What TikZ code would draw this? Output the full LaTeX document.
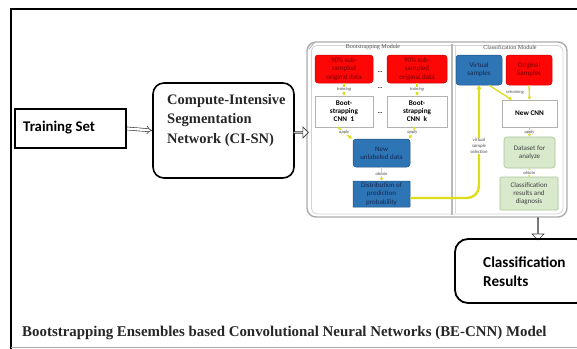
\documentclass[tikz,border=0pt]{standalone}
\usepackage{fontspec}
\setmainfont{Liberation Serif}
\newfontfamily\carl{Carlito}
\usetikzlibrary{arrows.meta,shapes.arrows,calc}
\definecolor{myred}{RGB}{252,6,6}
\definecolor{myredt}{RGB}{120,0,0}
\definecolor{myblue}{RGB}{46,117,182}
\definecolor{mybluet}{RGB}{20,40,80}
\definecolor{mygreen}{RGB}{216,233,204}
\definecolor{mygreenb}{RGB}{165,198,148}
\definecolor{myyel}{RGB}{222,222,24}
\tikzset{
  redbox/.style={draw=myred!80!black, line width=0.5pt, fill=myred, rounded corners=3pt, text=myredt, align=center, font=\carl\fontsize{7}{8.2}\selectfont, inner sep=0pt},
  bluebox/.style={draw=myblue!70!black, line width=0.5pt, fill=myblue, rounded corners=3pt, text=mybluet, align=center, font=\carl\fontsize{7}{8.2}\selectfont, inner sep=0pt},
  whitebox/.style={draw=gray!60, line width=0.6pt, fill=white, align=center, font=\carl\bfseries\fontsize{7.2}{8}\selectfont, inner sep=0pt},
  greenbox/.style={draw=mygreenb, line width=0.6pt, fill=mygreen, rounded corners=3pt, text=black!75, align=center, font=\carl\fontsize{7}{8.2}\selectfont, inner sep=0pt},
  yarrow/.style={draw=myyel, line width=1.3pt, -{Triangle[length=3pt,width=3.5pt]}},
  tinylab/.style={fill=white, inner sep=0.5pt, font=\carl\itshape\fontsize{4.5}{5}\selectfont, text=black!70},
  dots/.style={font=\bfseries\fontsize{6}{6}\selectfont, inner sep=0pt},
  hollow/.style={single arrow, draw=black!80, fill=white, line width=0.6pt, inner sep=0pt, single arrow head extend=2.5pt}
}
\begin{document}
\begin{tikzpicture}[x=1pt,y=-1pt]
\useasboundingbox (0,0) rectangle (577,348);
% outer frame
\draw[line width=2pt] (600,9) -- (11,9) -- (11,352);
\draw[gray!70, line width=0.8pt] (11,347) -- (600,347);

% training set
\node[draw, line width=2.2pt, minimum width=111pt, minimum height=39pt, inner sep=0pt] (train) at (70.5,128.5) {};
\node[font=\carl\bfseries\fontsize{14.8}{16}\selectfont, anchor=west, inner sep=0pt] (traint) at (23,127.5) {Training Set};

% CI-SN
\node[draw, line width=1.6pt, rounded corners=11pt, minimum width=141pt, minimum height=95pt, inner sep=0pt] (cisn) at (223.5,130.5) {};
\node[font=\bfseries\fontsize{14.5}{19.5}\selectfont, align=left, anchor=north west, inner sep=0pt, text=black!85] (cisnt) at (167,94) {Compute-Intensive\\Segmentation\\Network (CI-SN)};

\draw[double=white, double distance=2.4pt, line width=0.6pt, draw=black!80, -{Implies}] (train.east) -- (cisn.west);

% panel
\node[draw=gray!65, line width=1.4pt, rounded corners=9pt, minimum width=260pt, minimum height=175pt, inner sep=0pt, fill=white] (panel) at (437,129.5) {};
\draw[gray!35, line width=0.8pt, rounded corners=6pt] (311.5,45.5) rectangle (563,214);
\draw[gray!60, line width=0.9pt] (309,49) -- (315,42);
\draw[gray!55, line width=1.2pt] (452,44) -- (452,215);
\draw[gray!30, line width=0.6pt] (455,46) -- (455,213);

\node[hollow, minimum height=15pt, minimum width=11pt, single arrow head extend=2pt] (a2) at ($(cisn.east)!0.5!(panel.west)+(0,2.5)$) {};

\node[font=\fontsize{6}{6}\selectfont, text=black!70, inner sep=0pt] (tb) at (373,47.5) {Bootstrapping Module};
\node[font=\fontsize{6}{6}\selectfont, text=black!70, inner sep=0pt] (tc) at (510,47.5) {Classification Module};

% bootstrapping module
\node[redbox, minimum width=58pt, minimum height=28pt] (r1) at (344,69) {90\% sub-\\sampled\\original data};
\node[redbox, minimum width=60pt, minimum height=28pt] (r2) at (417,69) {90\% sub-\\sampled\\original data};
\node[whitebox, minimum width=58pt, minimum height=31pt] (b1) at (344,111.5) {Boot-\\strapping\\CNN\enspace 1};
\node[whitebox, minimum width=60pt, minimum height=31pt] (b2) at (417,111.5) {Boot-\\strapping\\CNN\enspace k};
\node[bluebox, minimum width=57pt, minimum height=28pt] (nd) at (381.5,153) {New\\unlabeled data};
\node[bluebox, rounded corners=0.5pt, minimum width=57pt, minimum height=26pt] (dist) at (381.5,194) {Distribution of\\prediction\\probability};

\node[dots] (d1) at (380,72) {...};
\node[dots] (d2) at (380,88) {...};
\node[dots] (d3) at (380,113) {...};

\draw[yarrow] (r1.south) -- (b1.north) node[midway, tinylab] (l1) {training};
\draw[yarrow] (r2.south) -- (b2.north) node[midway, tinylab] (l2) {training};
\draw[yarrow] ($(b1.south)+(-6,0)$) -- ($(nd.north west)+(-1,0)$) node[pos=0.45, tinylab] (l3) {apply};
\draw[yarrow] ($(b2.south)+(-2,0)$) -- ($(nd.north east)+(-1,0)$) node[pos=0.45, tinylab] (l4) {apply};
\draw[yarrow] (nd.south) -- (dist.north) node[midway, tinylab] (l5) {obtain};

% classification module
\node[bluebox, minimum width=46pt, minimum height=30pt] (vs) at (479,70) {Virtual\\samples};
\node[redbox, minimum width=46pt, minimum height=30pt] (os) at (529,70) {Original\\Samples};
\node[whitebox, minimum width=55pt, minimum height=27pt] (ncnn) at (529.5,113.5) {New CNN};
\node[greenbox, minimum width=51pt, minimum height=31pt] (dfa) at (529.5,152.5) {Dataset for\\analyze};
\node[greenbox, rounded corners=1pt, minimum width=58pt, minimum height=33pt] (crd) at (529,193.5) {Classification\\results and\\diagnosis};

\draw[draw=myyel, line width=2.4pt, rounded corners=12pt, -{Triangle[length=4pt,width=5pt]}] ($(dist.east)+(0,4)$) -| (vs.south);
\node[fill=white, inner sep=0.6pt, align=center, font=\carl\itshape\fontsize{4.8}{6.2}\selectfont, text=black!70] (l6) at (479,146) {virtual\\sample\\selection};

\draw[yarrow] ($(vs.south)+(10,0)$) -- ($(ncnn.north west)+(10,0)$);
\node[tinylab, fill=none] (l7) at (515,92.5) {retraining};
\draw[yarrow] (os.south) -- (ncnn.north);
\draw[yarrow] (ncnn.south) -- (dfa.north) node[midway, tinylab] (l8) {apply};
\draw[yarrow] (crd.north) -- (dfa.south) node[midway, tinylab] (l9) {obtain};

% results
\node[hollow, shape border rotate=270, minimum height=22pt, minimum width=12pt] (a3) at ($(panel.south)+(101,11)$) {};
\node[draw, line width=1.8pt, rounded corners=13pt, minimum width=134pt, minimum height=64pt, inner sep=0pt] (cres) at (522,271) {};
\node[font=\carl\bfseries\fontsize{15.2}{19}\selectfont, align=left, anchor=west, inner sep=0pt] (crest) at (483,271.5) {Classification\\Results};

% title
\node[font=\bfseries\fontsize{14.9}{16}\selectfont, anchor=west, inner sep=0pt, text=black!85] (title) at (22,333) {Bootstrapping Ensembles based Convolutional Neural Networks (BE-CNN) Model};
\end{tikzpicture}
\end{document}
